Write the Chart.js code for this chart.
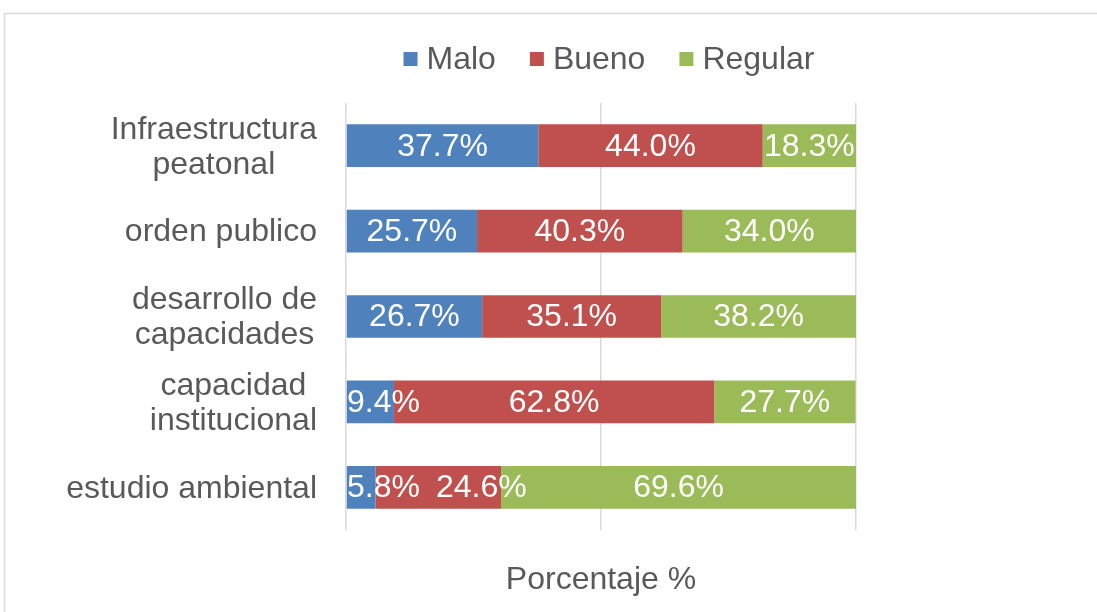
<!DOCTYPE html>
<html>
<head>
<meta charset="utf-8">
<script src="https://cdn.jsdelivr.net/npm/chart.js@4"></script>
<style>
  html, body { margin: 0; padding: 0; background: #ffffff; overflow: hidden; }
  canvas { display: block; }
</style>
</head>
<body>
<canvas id="c" width="1097" height="612"></canvas>
<script>
// ---- data ----
const categories = [
  ['Infraestructura', 'peatonal'],
  'orden publico',
  ['desarrollo de', 'capacidades'],
  ['capacidad', 'institucional'],
  'estudio ambiental'
];
const seriesNames = ['Malo', 'Bueno', 'Regular'];
const malo    = [37.7, 25.7, 26.7, 9.4, 5.8];
const bueno   = [44.0, 40.3, 35.1, 62.8, 24.6];
const regular = [18.3, 34.0, 38.2, 27.7, 69.6];
const axisTitle = 'Porcentaje %';

const FONT = '"Liberation Sans", Arial, sans-serif';
const TEXT = '#595959';
const colors = ['#4F81BD', '#C0504D', '#9BBB59'];

Chart.defaults.font.family = FONT;

const frame = {
  id: 'frame',
  beforeDraw(chart) {
    const ctx = chart.ctx;
    ctx.save();
    ctx.strokeStyle = '#d9d9d9';
    ctx.lineWidth = 1.5;
    ctx.strokeRect(4.5, 13.5, 1300, 800);
    ctx.restore();
  }
};

const dataLabels = {
  id: 'dataLabels',
  afterDatasetsDraw(chart) {
    const ctx = chart.ctx;
    ctx.save();
    ctx.font = '32px ' + FONT;
    ctx.fillStyle = '#ffffff';
    ctx.textAlign = 'left';
    ctx.textBaseline = 'middle';
    const n = chart.data.labels.length;
    for (let j = 0; j < n; j++) {
      let prevRight = null;
      chart.data.datasets.forEach((ds, i) => {
        const bar = chart.getDatasetMeta(i).data[j];
        const p = bar.getProps(['x', 'y', 'base'], true);
        const txt = ds.data[j].toFixed(1) + '%';
        const w = ctx.measureText(txt).width;
        let left = (p.x + p.base) / 2 - w / 2;
        if (left < chart.chartArea.left + 1) left = chart.chartArea.left + 1;
        if (prevRight !== null && left < prevRight + 16) left = prevRight + 16;
        ctx.fillText(txt, left, p.y + 1);
        prevRight = left + w;
      });
    }
    ctx.restore();
  }
};

const yLabels = {
  id: 'yLabels',
  afterDraw(chart) {
    const ctx = chart.ctx;
    const ys = chart.scales.y;
    const right = chart.chartArea.left - 29;
    ctx.save();
    ctx.font = '32px ' + FONT;
    ctx.fillStyle = TEXT;
    ctx.textAlign = 'center';
    ctx.textBaseline = 'middle';
    chart.data.labels.forEach((lab, i) => {
      const lines = Array.isArray(lab) ? lab : [lab];
      const maxW = Math.max(...lines.map(l => ctx.measureText(l).width));
      const cx = right - maxW / 2;
      const cy = ys.getPixelForValue(i) + 1.5;
      lines.forEach((l, k) => {
        ctx.fillText(l, cx, cy + (k - (lines.length - 1) / 2) * 35);
      });
    });
    ctx.restore();
  }
};

const legendDraw = {
  id: 'legendDraw',
  afterDraw(chart) {
    const ctx = chart.ctx;
    ctx.save();
    ctx.font = '32px ' + FONT;
    ctx.textBaseline = 'middle';
    ctx.textAlign = 'left';
    const box = 14, gapBT = 9, gapItem = 34;
    const items = chart.data.datasets.map(ds => ({ text: ds.label, color: ds.backgroundColor, w: ctx.measureText(ds.label).width }));
    const total = items.reduce((s, it) => s + box + gapBT + it.w, 0) + gapItem * (items.length - 1);
    const center = (chart.chartArea.left + chart.chartArea.right) / 2 + 8;
    let x = center - total / 2;
    const yc = 59;
    items.forEach(it => {
      ctx.fillStyle = it.color;
      ctx.fillRect(x, yc - box / 2, box, box);
      ctx.fillStyle = TEXT;
      ctx.fillText(it.text, x + box + gapBT, yc + 1);
      x += box + gapBT + it.w + gapItem;
    });
    ctx.restore();
  }
};

new Chart(document.getElementById('c'), {
  type: 'bar',
  data: {
    labels: categories,
    datasets: [
      { label: seriesNames[0], data: malo, backgroundColor: colors[0] },
      { label: seriesNames[1], data: bueno, backgroundColor: colors[1] },
      { label: seriesNames[2], data: regular, backgroundColor: colors[2] }
    ]
  },
  options: {
    indexAxis: 'y',
    responsive: false,
    animation: false,
    layout: { padding: { left: 346, right: 241, top: 103, bottom: 9 } },
    datasets: { bar: { categoryPercentage: 0.5, barPercentage: 1.0, borderWidth: 0 } },
    plugins: { legend: { display: false }, tooltip: { enabled: false } },
    scales: {
      x: {
        stacked: true,
        min: 0, max: 100,
        ticks: { display: false, stepSize: 50 },
        grid: { color: '#d9d9d9', lineWidth: 1.5, drawTicks: false },
        border: { display: false },
        title: { display: true, text: axisTitle, color: TEXT, font: { size: 32, family: FONT }, padding: { top: 30.6, bottom: 4 } }
      },
      y: {
        stacked: true,
        display: false
      }
    }
  },
  plugins: [frame, dataLabels, yLabels, legendDraw]
});
</script>
</body>
</html>
